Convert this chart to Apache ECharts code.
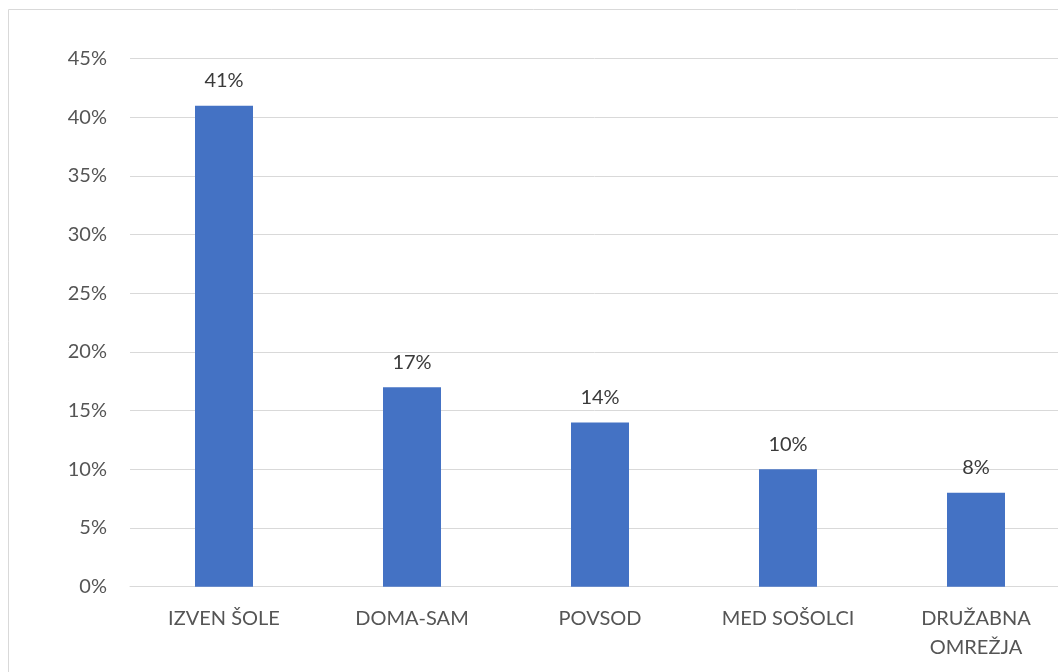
<!DOCTYPE html>
<html>
<head>
<meta charset="utf-8">
<script src="https://cdn.jsdelivr.net/npm/echarts@6/dist/echarts.min.js"></script>
<style>
html,body{margin:0;padding:0;background:#fff;}
#c{width:1058px;height:672px;}
</style>
</head>
<body>
<div id="c"></div>
<script>
const categories = ['IZVEN ŠOLE', 'DOMA-SAM', 'POVSOD', 'MED SOŠOLCI', 'DRUŽABNA\nOMREŽJA'];
const values = [41, 17, 14, 10, 8];
const yTicks = [0, 5, 10, 15, 20, 25, 30, 35, 40, 45];

const FONT = 'Lato';
const chart = echarts.init(document.getElementById('c'));
chart.setOption({
  animation: false,
  textStyle: { fontFamily: FONT },
  graphic: [{
    type: 'rect',
    shape: { x: 8.5, y: 9.5, width: 1200, height: 800 },
    style: { fill: 'none', stroke: '#d9d9d9', lineWidth: 1 },
    silent: true, z: -1
  }],
  grid: { left: 130, top: 58.7, right: -12, bottom: 85.3, containLabel: false, outerBoundsMode: 'none' },
  xAxis: {
    type: 'category',
    data: categories,
    axisTick: { show: false },
    axisLine: { show: true, lineStyle: { color: '#d9d9d9', width: 1 } },
    axisLabel: { color: '#555555', fontSize: 20, fontFamily: FONT, margin: 17, lineHeight: 29, interval: 0 }
  },
  yAxis: {
    type: 'value',
    min: yTicks[0],
    max: yTicks[yTicks.length - 1],
    interval: 5,
    axisLine: { show: false },
    axisTick: { show: false },
    splitLine: { lineStyle: { color: '#d9d9d9', width: 1 } },
    axisLabel: { color: '#555555', fontSize: 20, fontFamily: FONT, margin: 23, formatter: v => v + '%' }
  },
  series: [{
    type: 'bar',
    data: values,
    barWidth: 58,
    itemStyle: { color: '#4472C4' },
    label: {
      show: true, position: 'top', distance: 15,
      color: '#3a3a3a', fontSize: 20, fontFamily: FONT,
      formatter: p => p.value + '%'
    }
  }]
});
</script>
</body>
</html>
